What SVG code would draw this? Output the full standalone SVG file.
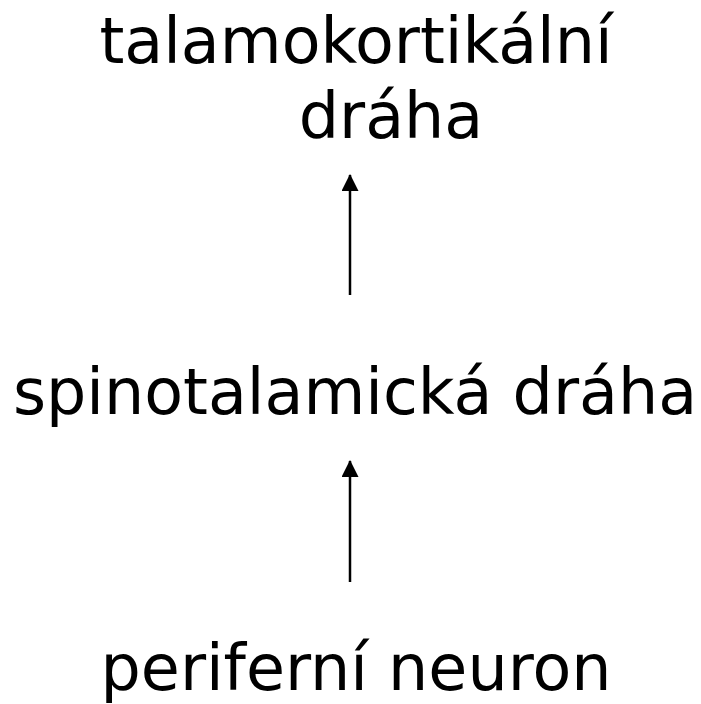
<svg xmlns="http://www.w3.org/2000/svg" width="701" height="704" viewBox="0 0 701 704">
  <style>
    .lbl { font-family: "DejaVu Sans", Verdana, sans-serif; font-size: 63.5px; fill: #000; text-anchor: middle; }
    .edge { stroke: #000; stroke-width: 2.5; fill: none; marker-end: url(#head); }
  </style>
  <defs>
    <marker id="head" viewBox="0 0 16 16" refX="15" refY="8" markerWidth="17" markerHeight="17" markerUnits="userSpaceOnUse" orient="auto">
      <path d="M0,0 L16,8 L0,16 Z" fill="#000"/>
    </marker>
  </defs>
  <rect width="701" height="704" fill="#fff"/>
  <g id="talamokortikalni">
    <text class="lbl" x="356" y="63">talamokortikální</text>
    <text class="lbl" x="391" y="138">dráha</text>
  </g>
  <g id="spinotalamicka">
    <text class="lbl" x="355" y="414">spinotalamická dráha</text>
  </g>
  <g id="periferni">
    <text class="lbl" x="356" y="690">periferní neuron</text>
  </g>
  <g id="connectors">
    <line class="edge" x1="350" y1="295" x2="350" y2="175"/>
    <line class="edge" x1="350" y1="582" x2="350" y2="461"/>
  </g>
</svg>
